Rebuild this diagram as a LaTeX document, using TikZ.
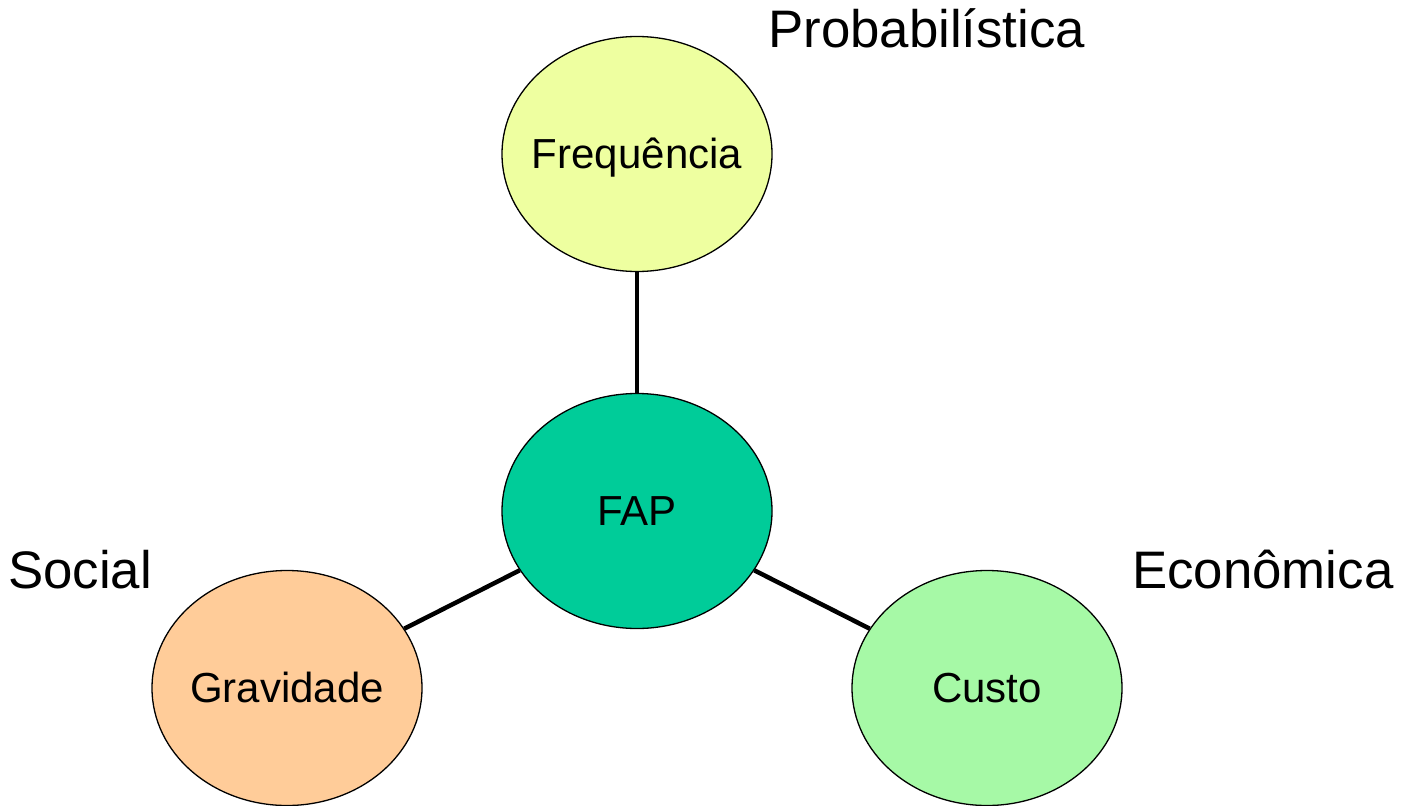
\documentclass[tikz,border=0pt]{standalone}
\usepackage{fontspec}
\setmainfont{Liberation Sans}
\usetikzlibrary{shapes.geometric}
\definecolor{freqc}{RGB}{238,255,160}
\definecolor{fapc}{RGB}{0,204,153}
\definecolor{gravc}{RGB}{255,204,153}
\definecolor{custoc}{RGB}{166,249,166}
\tikzset{
  bubble/.style={ellipse, draw=black, line width=1.3pt, minimum width=270pt, minimum height=235pt,
    inner xsep=-70pt, inner ysep=0pt,
    font=\fontsize{42}{50}\selectfont, text height=29pt, text depth=0pt},
  link/.style={line width=4.5pt},
  dimlabel/.style={inner sep=0pt, anchor=base west, font=\fontsize{52.8}{62}\selectfont}
}
\begin{document}
\begin{tikzpicture}[x=1pt,y=-1pt]
\useasboundingbox (0,0) rectangle (1404,805);
\node[bubble, fill=freqc] (freq) at (637,154) {Frequência};
\node[bubble, fill=fapc] (fap) at (637,511) {FAP};
\node[bubble, fill=gravc] (grav) at (287,688) {Gravidade};
\node[bubble, fill=custoc] (custo) at (987,688) {Custo};
\draw[link] (freq) -- (fap);
\draw[link] (fap) -- (grav);
\draw[link] (fap) -- (custo);
\node[dimlabel] (prob) at (768,48) {Probabilística};
\node[dimlabel] (soc) at (8,588) {Social};
\node[dimlabel] (eco) at (1132,588) {Econômica};
\end{tikzpicture}
\end{document}
